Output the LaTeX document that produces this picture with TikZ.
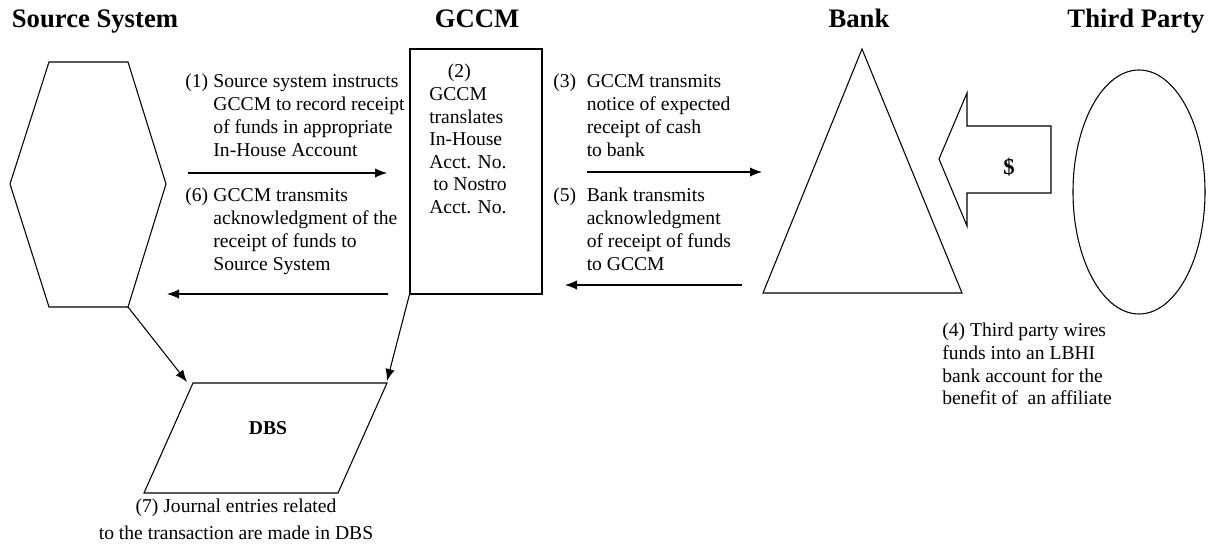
\documentclass[tikz,border=0pt]{standalone}
\usepackage{fontspec}
\setmainfont{Liberation Serif}
\usetikzlibrary{arrows.meta,shapes.geometric}
\begin{document}
\begin{tikzpicture}[x=0.75pt,y=-0.75pt,
  outline/.style={draw,line width=0.8pt,line join=miter},
  flow/.style={draw,line width=0.8pt,-{Latex[length=9pt,width=7pt]}},
  head/.style={font=\fontsize{20}{24}\selectfont\bfseries,inner sep=0pt,anchor=base},
  body/.style={font=\fontsize{14.7}{17.25}\selectfont,inner sep=0pt,anchor=base west}]
\useasboundingbox (0,0) rectangle (1211,548);

% headers
\node[head] (hsrc) at (95,28) {Source System};
\node[head] (hgccm) at (477,28) {GCCM};
\node[head] (hbank) at (859,28) {Bank};
\node[head] (hthird) at (1136,28) {Third Party};

% source system hexagon
\coordinate (hexTL) at (49,62);
\coordinate (hexTR) at (128,62);
\coordinate (hexR) at (166,184);
\coordinate (hexBR) at (128,307);
\coordinate (hexBL) at (49,307);
\coordinate (hexL) at (10,184);
\draw[outline] (hexTL) -- (hexTR) -- (hexR) -- (hexBR) -- (hexBL) -- (hexL) -- cycle;

% GCCM box
\node[outline,minimum width=99pt,minimum height=183.75pt,inner sep=0pt] (gccm) at (476,171.5) {};

% bank triangle
\coordinate (bankTop) at (862,49);
\coordinate (bankBR) at (962,293);
\coordinate (bankBL) at (763,293);
\draw[outline] (bankTop) -- (bankBR) -- (bankBL) -- cycle;

% third party ellipse
\node[outline,ellipse,minimum width=99pt,minimum height=183pt,inner sep=0pt] (third) at (1139,192) {};

% block arrow with $
\draw[outline] (939,159) -- (967,93) -- (967,126) -- (1051,126) -- (1051,193) -- (967,193) -- (967,226) -- cycle;
\node[font=\fontsize{17}{20}\selectfont\bfseries,inner sep=0pt] (dollar) at (1009,167) {\$};

% DBS parallelogram
\coordinate (dbsTL) at (193,383);
\coordinate (dbsTR) at (387,383);
\coordinate (dbsBR) at (338,493);
\coordinate (dbsBL) at (144,493);
\draw[outline] (dbsTL) -- (dbsTR) -- (dbsBR) -- (dbsBL) -- cycle;
\node[font=\fontsize{14.7}{17}\selectfont\bfseries,inner sep=0pt] (dbs) at (268,428) {DBS};

% horizontal flows
\coordinate (a1s) at (188,173);
\coordinate (a1e) at (387,173);
\coordinate (a6s) at (388,294);
\coordinate (a6e) at (167,294);
\coordinate (a3s) at (587,172);
\coordinate (a3e) at (762,172);
\coordinate (a5s) at (742,285);
\coordinate (a5e) at (565,285);
\draw[flow] (a1s) -- (a1e);
\draw[flow] (a6s) -- (a6e);
\draw[flow] (a3s) -- (a3e);
\draw[flow] (a5s) -- (a5e);

% flows to DBS
\coordinate (dbsIn1) at (187,382);
\coordinate (dbsIn2) at (387,381);
\draw[flow] (hexBR) -- (dbsIn1);
\draw[flow] (gccm.south west) -- (dbsIn2);

% texts
\node[body] (t1) at (185,88) {\begin{tabular}[t]{@{}l@{\hspace{4pt}}l@{}}(1)&Source system instructs\\ &GCCM to record receipt\\ &of funds in appropriate\\ &In-House Account\end{tabular}};
\node[body] (t6) at (185,202) {\begin{tabular}[t]{@{}l@{\hspace{4pt}}l@{}}(6)&GCCM transmits\\ &acknowledgment of the\\ &receipt of funds to\\ &Source System\end{tabular}};
\node[body] (t2) at (429,78) {\fontsize{14.7}{16.95}\selectfont\begin{tabular}[t]{@{}l@{}}\hspace*{14pt}(2)\\ GCCM\\ translates\\ In-House\\ Acct. No.\\ \hspace*{3pt}to Nostro\\ Acct. No.\end{tabular}};
\node[body] (t3) at (553,88) {\begin{tabular}[t]{@{}l@{\hspace{8pt}}l@{}}(3)&GCCM transmits\\ &notice of expected\\ &receipt of cash\\ &to bank\end{tabular}};
\node[body] (t5) at (553,202) {\begin{tabular}[t]{@{}l@{\hspace{8pt}}l@{}}(5)&Bank transmits\\ &acknowledgment\\ &of receipt of funds\\ &to GCCM\end{tabular}};
\node[body] (t4) at (942,337) {\fontsize{14.7}{16.95}\selectfont\begin{tabular}[t]{@{}l@{}}(4) Third party wires\\ funds into an LBHI\\ bank account for the\\ benefit of~ an affiliate\end{tabular}};
\node[body,anchor=base] (t7) at (236,513) {\fontsize{14.7}{20}\selectfont\begin{tabular}[t]{@{}c@{}}(7) Journal entries related\\ to the transaction are made in DBS\end{tabular}};
\end{tikzpicture}
\end{document}
